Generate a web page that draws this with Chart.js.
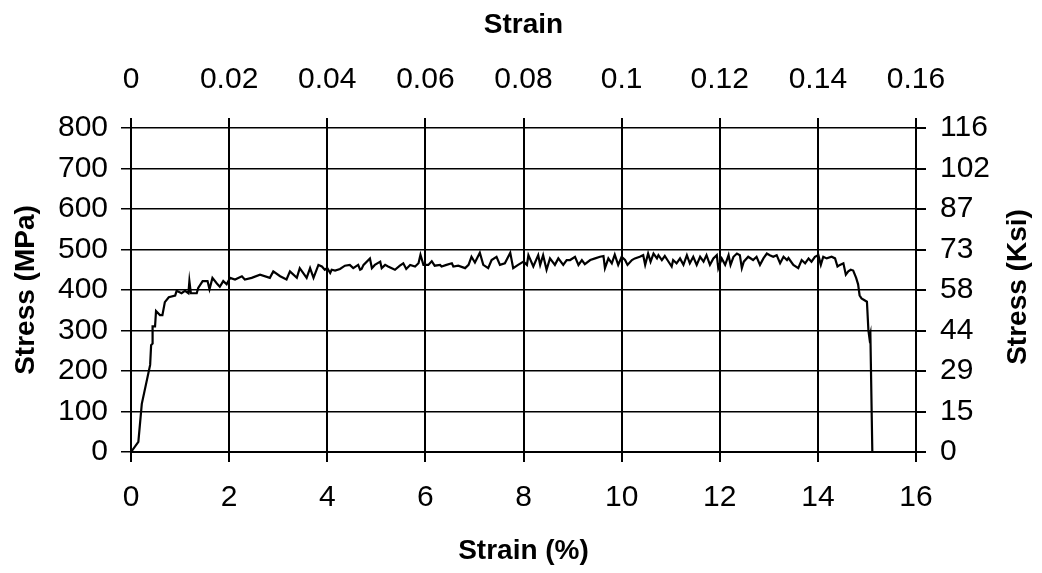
<!DOCTYPE html>
<html>
<head>
<meta charset="utf-8">
<script src="https://cdn.jsdelivr.net/npm/chart.js@4/dist/chart.umd.min.js"></script>
<style>
  body { margin: 0; background: #fff; }
  #wrap { width: 1042px; height: 573px; }
</style>
</head>
<body>
<div id="wrap"><canvas id="chart" width="1042" height="573"></canvas></div>
<script>
// strain in %, stress in MPa
const strain = [
  0, 0.15, 0.22, 0.39, 0.41, 0.44, 0.44, 0.49, 0.51, 0.59, 0.64, 0.69, 0.77, 0.90, 0.93,
  1.03, 1.10, 1.17, 1.19, 1.22, 1.34, 1.37, 1.46, 1.56, 1.60, 1.66, 1.75, 1.81, 1.88, 1.95,
  2.02, 2.12, 2.26, 2.32, 2.46, 2.63, 2.83, 2.90, 3.04, 3.17, 3.24, 3.38, 3.44, 3.58, 3.65,
  3.72, 3.82, 3.89, 3.95, 4.00, 4.06, 4.09, 4.16, 4.26, 4.36, 4.46, 4.53, 4.63, 4.67, 4.70,
  4.74, 4.87, 4.91, 4.97, 5.08, 5.11, 5.18, 5.24, 5.38, 5.48, 5.55, 5.61, 5.69, 5.79, 5.86,
  5.90, 5.96, 6.06, 6.13, 6.19, 6.30, 6.33, 6.43, 6.54, 6.57, 6.67, 6.81, 6.88, 6.94, 7.01,
  7.11, 7.18, 7.28, 7.35, 7.45, 7.52, 7.62, 7.73, 7.79, 7.89, 8.00, 8.07, 8.10, 8.20, 8.30,
  8.34, 8.40, 8.47, 8.54, 8.64, 8.71, 8.81, 8.88, 8.95, 9.05, 9.12, 9.19, 9.25, 9.36, 9.46,
  9.56, 9.63, 9.66, 9.73, 9.80, 9.86, 9.93, 10.00, 10.07, 10.12, 10.21, 10.27, 10.37, 10.44,
  10.48, 10.54, 10.59, 10.65, 10.72, 10.75, 10.82, 10.88, 10.95, 11.02, 11.05, 11.12, 11.19,
  11.26, 11.33, 11.39, 11.46, 11.53, 11.60, 11.67, 11.73, 11.80, 11.87, 11.94, 11.97, 12.04,
  12.11, 12.18, 12.22, 12.28, 12.35, 12.41, 12.45, 12.49, 12.58, 12.68, 12.75, 12.82, 12.89,
  12.96, 13.02, 13.09, 13.16, 13.23, 13.30, 13.37, 13.40, 13.50, 13.60, 13.67, 13.74, 13.81,
  13.87, 13.94, 14.01, 14.06, 14.11, 14.18, 14.28, 14.35, 14.40, 14.45, 14.52, 14.57, 14.62,
  14.67, 14.72, 14.78, 14.82, 14.85, 14.89, 15.00, 15.03, 15.05, 15.07, 15.11
];
const stress = [
  0, 25, 119, 215, 264, 268, 310, 310, 348, 338, 338, 370, 382, 386, 398,
  392, 398, 392, 422, 392, 392, 405, 422, 422, 402, 430, 416, 408, 422, 414,
  430, 426, 434, 426, 430, 438, 430, 446, 434, 426, 446, 430, 454, 430, 454,
  430, 462, 458, 450, 454, 442, 450, 448, 452, 460, 462, 454, 462, 450, 452,
  462, 478, 454, 462, 470, 454, 462, 458, 450, 460, 466, 452, 462, 458, 466,
  487, 462, 462, 471, 460, 462, 458, 462, 466, 458, 460, 454, 462, 482, 468,
  492, 462, 454, 474, 482, 462, 466, 492, 454, 462, 470, 462, 486, 458, 486,
  462, 486, 450, 478, 462, 478, 462, 474, 474, 482, 462, 474, 464, 474, 478,
  482, 484, 454, 478, 466, 487, 462, 482, 474, 462, 474, 478, 482, 486,
  462, 490, 470, 490, 478, 486, 474, 484, 471, 458, 474, 466, 478,
  462, 486, 466, 482, 462, 482, 470, 486, 462, 478, 486, 454, 478,
  462, 486, 462, 482, 490, 486, 454, 470, 482, 474, 482, 462, 478,
  490, 486, 482, 486, 466, 482, 474, 479, 462, 454, 474, 466, 478,
  470, 482, 486, 462, 482, 478, 482, 478, 458, 462, 466, 438, 446,
  450, 448, 430, 414, 387, 379, 371, 300, 282, 292, 0
];

const topLabels = ['0', '0.02', '0.04', '0.06', '0.08', '0.1', '0.12', '0.14', '0.16'];
const ksiLabels = ['0', '15', '29', '44', '58', '73', '87', '102', '116'];
const rightTitle = 'Stress (Ksi)';

Chart.defaults.font.family = "'Liberation Sans', Arial, sans-serif";
Chart.defaults.color = '#000';

const points = strain.map((s, i) => ({ x: s, y: stress[i] }));

const tickFont = { size: 30, lineHeight: 1.2 };
const titleFont = { size: 28, weight: 'bold', lineHeight: 1.2 };

// chart.js turns right-hand titles the other way, so this one is drawn by hand
const rightTitlePlugin = {
  id: 'rightTitle',
  afterDraw(chart) {
    const ctx = chart.ctx;
    const area = chart.chartArea;
    ctx.save();
    ctx.translate(1018, (area.top + area.bottom) / 2 - 3);
    ctx.rotate(-Math.PI / 2);
    ctx.font = "bold 28px 'Liberation Sans', Arial, sans-serif";
    ctx.fillStyle = '#000';
    ctx.textAlign = 'center';
    ctx.textBaseline = 'middle';
    ctx.fillText(rightTitle, 0, 0);
    ctx.restore();
  }
};

new Chart(document.getElementById('chart'), {
  type: 'scatter',
  data: {
    datasets: [{
      data: points,
      showLine: true,
      borderColor: '#000',
      borderWidth: 2.2,
      pointRadius: 0,
      tension: 0,
      xAxisID: 'x',
      yAxisID: 'y'
    }]
  },
  options: {
    responsive: false,
    animation: false,
    layout: { padding: 0 },
    plugins: { legend: { display: false }, tooltip: { enabled: false } },
    scales: {
      x: {
        type: 'linear', position: 'bottom', min: 0, max: 16,
        ticks: { stepSize: 2, font: tickFont, padding: 18, maxRotation: 0 },
        grid: { color: '#000', lineWidth: 2, tickLength: 10 },
        border: { color: '#000', width: 2 },
        title: { display: true, text: 'Strain (%)', font: titleFont, padding: { top: 0, bottom: 5 } },
        afterFit: s => { s.height = 121; }
      },
      x2: {
        type: 'linear', position: 'top', min: 0, max: 0.16,
        ticks: { stepSize: 0.02, font: tickFont, padding: 20, maxRotation: 0,
                 callback: (v, i) => topLabels[i] },
        grid: { color: '#000', lineWidth: 2, tickLength: 10, drawOnChartArea: false },
        border: { display: false },
        title: { display: true, text: 'Strain', font: titleFont, padding: { top: 8, bottom: 0 } },
        afterFit: s => { s.height = 128; }
      },
      y: {
        type: 'linear', position: 'left', min: 0, max: 800,
        ticks: { stepSize: 100, font: tickFont, padding: 13 },
        grid: { color: '#000', lineWidth: 1.5, tickLength: 10 },
        border: { color: '#000', width: 2 },
        title: { display: true, text: 'Stress (MPa)', font: titleFont, padding: { top: 9, bottom: 0 } },
        afterFit: s => { s.width = 131; }
      },
      y2: {
        type: 'linear', position: 'right', min: 0, max: 800,
        ticks: { stepSize: 100, font: tickFont, padding: 14,
                 callback: (v, i) => ksiLabels[i] },
        grid: { color: '#000', lineWidth: 2, tickLength: 10, drawOnChartArea: false },
        border: { color: '#000', width: 2 },
        afterFit: s => { s.width = 126; }
      }
    }
  },
  plugins: [rightTitlePlugin]
});
</script>
</body>
</html>
